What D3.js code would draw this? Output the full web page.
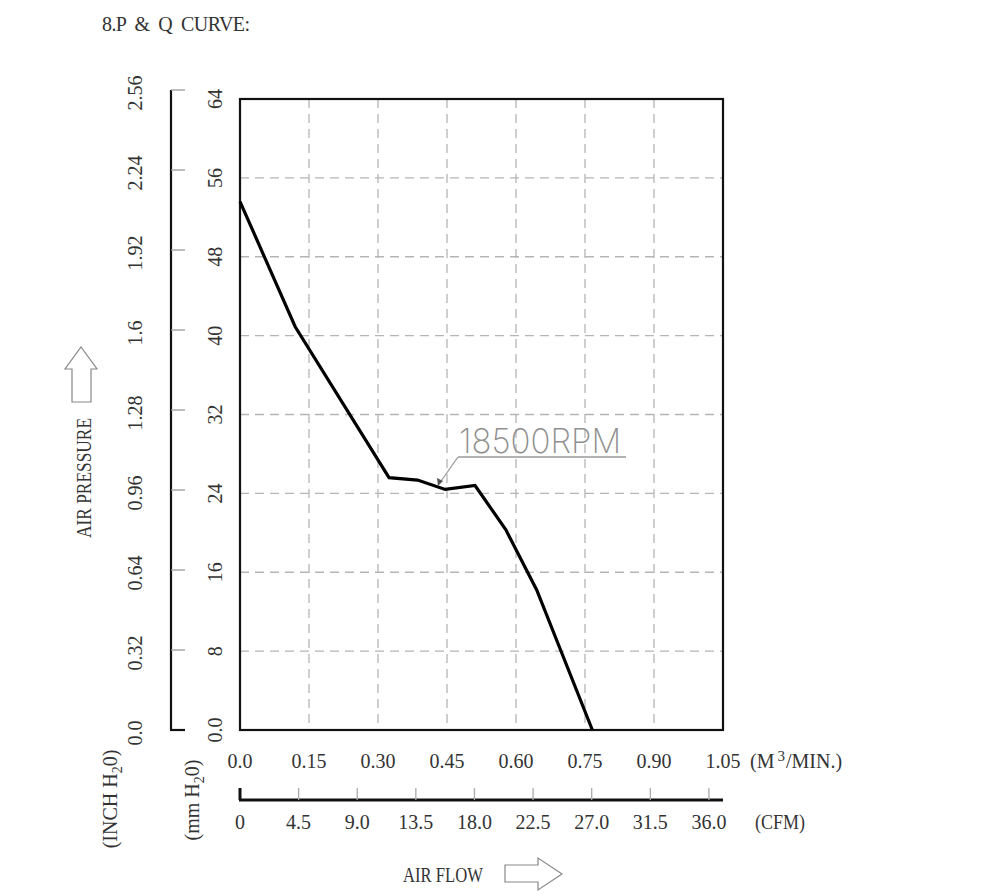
<!DOCTYPE html>
<html><head><meta charset="utf-8">
<script src="https://cdn.jsdelivr.net/npm/d3@7"></script>
<style>
body{margin:0;background:#fff;}
svg text.s{font-family:"Liberation Serif","DejaVu Serif",serif;fill:#333;}
</style></head>
<body><svg id="c" width="1000" height="896"></svg>
<script>
// ---- data ----
const flowM3 = [0, 0.120, 0.324, 0.386, 0.446, 0.511, 0.578, 0.645, 0.766];
const pressureMm = [53.6, 40.9, 25.6, 25.35, 24.4, 24.8, 20.3, 14.2, 0];
const xTicks = [0, 0.15, 0.30, 0.45, 0.60, 0.75, 0.90, 1.05];
const xTickLabels = ["0.0","0.15","0.30","0.45","0.60","0.75","0.90","1.05"];
const mmTicks = [0, 8, 16, 24, 32, 40, 48, 56, 64];
const mmTickLabels = ["0.0","8","16","24","32","40","48","56","64"];
const inchTicks = [0, 0.32, 0.64, 0.96, 1.28, 1.6, 1.92, 2.24, 2.56];
const inchTickLabels = ["0.0","0.32","0.64","0.96","1.28","1.6","1.92","2.24","2.56"];
const cfmTicks = [0, 4.5, 9.0, 13.5, 18.0, 22.5, 27.0, 31.5, 36.0];
const cfmTickLabels = ["0","4.5","9.0","13.5","18.0","22.5","27.0","31.5","36.0"];
const seriesLabel = "18500RPM";

const svg = d3.select("#c");
const x = d3.scaleLinear().domain([0, 1.05]).range([240, 723]);
const y = d3.scaleLinear().domain([0, 64]).range([730, 99]);
const yIn = d3.scaleLinear().domain([0, 2.56]).range([730, 90]);
const xCfm = d3.scaleLinear().domain([0, 1.05 * 35.315]).range([240, 723]);

const FS = 20;
function txt(sel) { return sel.append("text").attr("class", "s").attr("font-size", FS); }

// title
txt(svg).attr("x", 102).attr("y", 31).style("white-space", "pre")
  .attr("textLength", 148).attr("lengthAdjust", "spacing").text("8.P  &  Q  CURVE:");

// grid
const g = svg.append("g");
g.selectAll("line.vg").data(xTicks.slice(1, -1)).join("line")
  .attr("x1", d => x(d)).attr("x2", d => x(d)).attr("y1", y(64)).attr("y2", y(0))
  .attr("stroke", "#b5b5b5").attr("stroke-width", 1.3).attr("stroke-dasharray", "9,6");
g.selectAll("line.hg").data(mmTicks.slice(1, -1)).join("line")
  .attr("x1", x(0)).attr("x2", x(1.05)).attr("y1", d => y(d)).attr("y2", d => y(d))
  .attr("stroke", "#b5b5b5").attr("stroke-width", 1.3).attr("stroke-dasharray", "9,6");

// frame
svg.append("rect").attr("x", x(0)).attr("y", y(64)).attr("width", x(1.05) - x(0))
  .attr("height", y(0) - y(64)).attr("fill", "none").attr("stroke", "#111").attr("stroke-width", 2.2);

// curve
const line = d3.line().x((d, i) => x(flowM3[i])).y(d => y(d));
svg.append("path").datum(pressureMm).attr("d", line).attr("fill", "none")
  .attr("stroke", "#000").attr("stroke-width", 3.2).attr("stroke-linejoin", "miter");

// mm labels
svg.selectAll("text.mm").data(mmTicks).join("text").attr("class", "s").attr("font-size", FS)
  .attr("transform", d => `translate(222,${y(d)}) rotate(-90)`)
  .attr("text-anchor", "middle")
  .text((d, i) => mmTickLabels[i]);

// inch axis
svg.append("line").attr("x1", 171).attr("x2", 171).attr("y1", yIn(2.56)).attr("y2", yIn(0))
  .attr("stroke", "#111").attr("stroke-width", 2.2);
svg.append("line").attr("x1", 170).attr("x2", 185).attr("y1", yIn(0)).attr("y2", yIn(0))
  .attr("stroke", "#111").attr("stroke-width", 2.2);
svg.selectAll("line.it").data(inchTicks.slice(1)).join("line")
  .attr("x1", 171).attr("x2", 185).attr("y1", d => yIn(d)).attr("y2", d => yIn(d))
  .attr("stroke", "#999").attr("stroke-width", 1.3);
svg.selectAll("text.in").data(inchTicks).join("text").attr("class", "s").attr("font-size", FS)
  .attr("transform", d => `translate(142,${yIn(d) + 3}) rotate(-90)`)
  .attr("text-anchor", "middle")
  .text((d, i) => inchTickLabels[i]);

// x labels (m3/min)
svg.selectAll("text.xl").data(xTicks).join("text").attr("class", "s").attr("font-size", FS)
  .attr("x", d => x(d)).attr("y", 768).attr("text-anchor", "middle")
  .text((d, i) => xTickLabels[i]);
const unit = txt(svg).attr("x", 750).attr("y", 768);
unit.append("tspan").text("(M");
unit.append("tspan").attr("dy", -7).attr("font-size", 15).attr("dx", 3).text("3");
unit.append("tspan").attr("dy", 7).attr("dx", 1).text("/MIN.)");

// CFM axis
svg.append("line").attr("x1", xCfm(0) - 1).attr("x2", x(1.05)).attr("y1", 800).attr("y2", 800)
  .attr("stroke", "#111").attr("stroke-width", 3);
svg.selectAll("line.ct").data(cfmTicks).join("line")
  .attr("x1", d => xCfm(d)).attr("x2", d => xCfm(d)).attr("y1", 788).attr("y2", 800)
  .attr("stroke", (d, i) => i === 0 ? "#111" : "#aaa").attr("stroke-width", (d, i) => i === 0 ? 3 : 1.3);
svg.selectAll("text.cl").data(cfmTicks).join("text").attr("class", "s").attr("font-size", FS)
  .attr("x", d => xCfm(d)).attr("y", 829).attr("text-anchor", "middle")
  .text((d, i) => cfmTickLabels[i]);
txt(svg).attr("x", 755).attr("y", 829).attr("textLength", 50).attr("lengthAdjust", "spacingAndGlyphs").text("(CFM)");

// axis unit labels
function rotLabel(cx, cy, parts) {
  const t = txt(svg).attr("transform", `translate(${cx},${cy}) rotate(-90)`)
    .attr("text-anchor", "middle");
  parts.forEach(p => {
    const s = t.append("tspan").text(p.t);
    if (p.sub) s.attr("dy", 5).attr("font-size", 14);
    if (p.back) s.attr("dy", -5);
  });
  return t;
}
rotLabel(117, 799, [{t:"(INCH H"},{t:"2",sub:true},{t:"0)",back:true}]);
rotLabel(199, 800, [{t:"(mm H"},{t:"2",sub:true},{t:"0)",back:true}]);
txt(svg).attr("transform", "translate(91,478) rotate(-90)").attr("text-anchor", "middle")
  .attr("textLength", 120).attr("lengthAdjust", "spacingAndGlyphs").text("AIR PRESSURE");
txt(svg).attr("x", 403).attr("y", 882)
  .attr("textLength", 80).attr("lengthAdjust", "spacingAndGlyphs").text("AIR FLOW");

// arrows
svg.append("path").attr("d", "M72,402 L72,369 L65,369 L81,347 L97,369 L91,369 L91,402 Z")
  .attr("fill", "none").attr("stroke", "#888").attr("stroke-width", 1.2);
svg.append("path").attr("d", "M505,865 L538,865 L538,858 L562,874 L538,890 L538,882 L505,882 Z")
  .attr("fill", "none").attr("stroke", "#888").attr("stroke-width", 1.2);

// series label with leader
const lx = 458, ly = 457;
svg.append("text").attr("x", lx + 1).attr("y", 453).attr("font-size", 34)
  .style("font-family", "Inter, 'DejaVu Sans', sans-serif").style("font-weight", 200)
  .style("fill", "#8f8f8f")
  .attr("textLength", 162).attr("lengthAdjust", "spacingAndGlyphs").text(seriesLabel);
svg.append("line").attr("x1", lx).attr("x2", 626).attr("y1", ly).attr("y2", ly)
  .attr("stroke", "#9a9a9a").attr("stroke-width", 1.3);
svg.append("line").attr("x1", lx).attr("x2", 439).attr("y1", ly).attr("y2", 484)
  .attr("stroke", "#9a9a9a").attr("stroke-width", 1.3);
svg.append("path").attr("d", "M438,486 L437,478 L443,481 Z").attr("fill", "#555");
</script></body></html>
